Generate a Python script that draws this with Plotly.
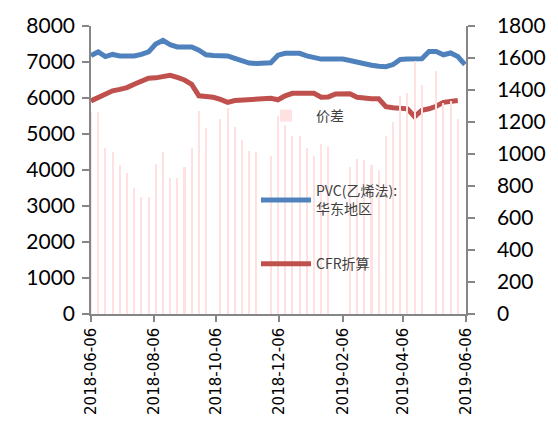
import pandas as pd
import plotly.graph_objects as go

# Weekly observations, 2018-06-06 .. 2019-06-05
weeks = pd.date_range("2018-06-06", periods=53, freq="7D")

# PVC (ethylene process), East China, yuan/t
pvc = [7180, 7280, 7150, 7210, 7170, 7170, 7170, 7210, 7280, 7500,
       7600, 7480, 7420, 7420, 7420, 7330, 7200, 7180, 7180, 7170,
       7100, 7030, 6970, 6960, 6960, 6980, 7190, 7240, 7240, 7240,
       7170, 7120, 7080, 7080, 7080, 7080, 7040, 6990, 6950, 6910,
       6880, 6870, 6930, 7070, 7080, 7080, 7090, 7290, 7290, 7200,
       7250, 7150, 6930]

# CFR converted price, yuan/t
cfr = [5920, 6020, 6110, 6200, 6240, 6290, 6380, 6480, 6550, 6560,
       6590, 6630, 6570, 6500, 6380, 6060, 6040, 6020, 5960, 5880,
       5930, 5940, 5950, 5950, 5970, 5990, 5950, 6060, 6130, 6130,
       6130, 6130, 6020, 6030, 6110, 6110, 6120, 6020, 5990, 5980,
       5980, 5760, 5730, 5710, 5700, 5480, 5660, 5700, 5770, 5880,
       5920, 5930, None]

# Spread (right axis); blank weeks have no reading
spread = [1260, 1260, 1040, 1010, 930, 880, 790, 730, 730, 940,
          1010, 850, 850, 920, 1040, 1270, 1160, None, 1220, 1290,
          1170, 1090, 1020, 1010, None, 990, 1240, 1180, 1110, 1110,
          1040, 990, 1060, 1050, None, None, 920, 970, 960, 930,
          900, 1110, 1200, 1360, 1380, 1580, 1430, None, 1520, 1320,
          1330, 1220, None]

x_ticks = ["2018-06-06", "2018-08-06", "2018-10-06", "2018-12-06",
           "2019-02-06", "2019-04-06", "2019-06-06"]
left_ticks = [0, 1000, 2000, 3000, 4000, 5000, 6000, 7000, 8000]
right_ticks = [0, 200, 400, 600, 800, 1000, 1200, 1400, 1600, 1800]

AXIS = "#868686"
NUM_FONT = dict(family="Lato, 'Open Sans', sans-serif", size=21, color="#000000")
LEGEND_FONT = dict(family="'Noto Sans CJK SC', sans-serif", size=14, color="#404040")

fig = go.Figure()

fig.add_trace(go.Bar(
    x=weeks, y=spread, name="价差", yaxis="y2", legendgroup="spread",
    width=2.0 * 24 * 3600 * 1000,
    marker=dict(color="#FFE1E1", line=dict(width=0)),
))
fig.add_trace(go.Scatter(
    x=weeks, y=pvc, name="PVC(乙烯法):<br>华东地区", mode="lines",
    legendgroup="pvc",
    line=dict(color="#4F81BD", width=5),
))
fig.add_trace(go.Scatter(
    x=weeks, y=cfr, name="CFR折算", mode="lines", legendgroup="cfr",
    legend="legend2",
    line=dict(color="#C0504D", width=5),
))

fig.update_layout(
    width=558, height=427, autosize=False,
    margin=dict(l=91, r=83, t=24, b=113),
    paper_bgcolor="white", plot_bgcolor="white",
    bargap=0,
    showlegend=True,
    legend=dict(
        x=0.44, y=0.743, xanchor="left", yanchor="top",
        bgcolor="rgba(0,0,0,0)", font=LEGEND_FONT,
        tracegroupgap=54, traceorder="grouped", itemwidth=50,
    ),
    legend2=dict(
        x=0.44, y=0.229, xanchor="left", yanchor="top",
        bgcolor="rgba(0,0,0,0)", font=LEGEND_FONT, itemwidth=50,
    ),
    xaxis=dict(
        type="date", range=["2018-06-06", "2019-06-06"],
        tickvals=x_ticks, ticktext=x_ticks, tickangle=-90,
        tickfont=dict(family="'DejaVu Sans', sans-serif", size=15, color="#000000"),
        showline=True, linecolor=AXIS, linewidth=1.5,
        ticks="outside", ticklen=6, tickcolor=AXIS, tickwidth=1.5,
        showgrid=False, zeroline=False,
    ),
    yaxis=dict(
        range=[0, 8000], tickvals=left_ticks,
        tickfont=NUM_FONT,
        showline=True, linecolor=AXIS, linewidth=1.5,
        ticks="outside", ticklen=7, tickcolor=AXIS, tickwidth=1.5,
        ticklabelstandoff=3,
        showgrid=False, zeroline=False,
    ),
    yaxis2=dict(
        range=[0, 1800], tickvals=right_ticks, overlaying="y", side="right",
        tickfont=NUM_FONT,
        showline=True, linecolor=AXIS, linewidth=1.5,
        ticks="outside", ticklen=7, tickcolor=AXIS, tickwidth=1.5,
        ticklabelstandoff=18,
        showgrid=False, zeroline=False,
    ),
)

fig.write_html("out.html")
